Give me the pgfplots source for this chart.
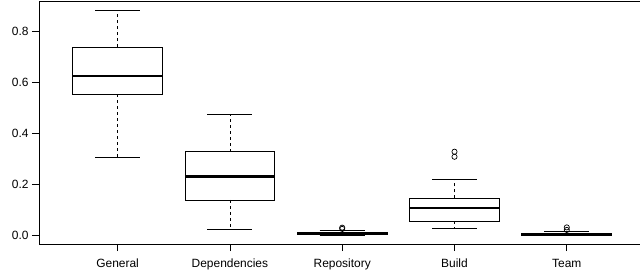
\documentclass[border=0pt]{standalone}
\usepackage{pgfplots}
\pgfplotsset{compat=1.18}
\usepgfplotslibrary{statistics}
\usepackage{fontspec}
\setmainfont{Liberation Sans}
\begin{document}
\begin{tikzpicture}
\begin{axis}[
  scale only axis, width=606.4bp, height=242.5bp,
  xmin=0.3, xmax=5.7, ymin=-0.0354, ymax=0.9193,
  xtick={1,2,3,4,5},
  xticklabels={General,Dependencies,Repository,Build,Team},
  ytick={0,0.2,0.4,0.6,0.8},
  xtick pos=bottom, ytick pos=left,
  tick align=outside, major tick length=7bp,
  tick style={black, line width=0.8bp},
  axis line style={line width=0.8bp},
  /pgf/number format/assume math mode=true,
  yticklabel style={/pgf/number format/fixed,/pgf/number format/fixed zerofill,/pgf/number format/precision=1},
  xticklabel style={yshift=-4.5bp},
  tick label style={font=\fontsize{12}{14}\selectfont},
  boxplot/draw direction=y,
  boxplot/box extend=0.8,
  boxplot/whisker extend=0.4,
  boxplot/draw/lower whisker/.code={
    \draw[black, line width=0.8bp, dash pattern=on 3bp off 3bp]
      (boxplot box cs:\pgfplotsboxplotvalue{lower quartile},0.5) --
      (boxplot box cs:\pgfplotsboxplotvalue{lower whisker},0.5);
    \draw[black, line width=0.8bp]
      (boxplot whisker cs:\pgfplotsboxplotvalue{lower whisker},0) --
      (boxplot whisker cs:\pgfplotsboxplotvalue{lower whisker},1);
  },
  boxplot/draw/upper whisker/.code={
    \draw[black, line width=0.8bp, dash pattern=on 3bp off 3bp]
      (boxplot box cs:\pgfplotsboxplotvalue{upper quartile},0.5) --
      (boxplot box cs:\pgfplotsboxplotvalue{upper whisker},0.5);
    \draw[black, line width=0.8bp]
      (boxplot whisker cs:\pgfplotsboxplotvalue{upper whisker},0) --
      (boxplot whisker cs:\pgfplotsboxplotvalue{upper whisker},1);
  },
  boxplot/draw/median/.code={
    \draw[black, line width=2.4bp]
      (boxplot box cs:\pgfplotsboxplotvalue{median},0) --
      (boxplot box cs:\pgfplotsboxplotvalue{median},1);
  },
  every axis plot/.append style={black, line width=0.8bp, solid, mark=o, mark size=2.6bp, mark options={solid, line width=0.7bp}},
]
% General
\addplot[boxplot prepared={draw position=1, lower whisker=0.306, lower quartile=0.554, median=0.625, upper quartile=0.740, upper whisker=0.885}] coordinates {};
% Dependencies
\addplot[boxplot prepared={draw position=2, lower whisker=0.024, lower quartile=0.138, median=0.230, upper quartile=0.328, upper whisker=0.475}] coordinates {};
% Repository
\addplot[boxplot prepared={draw position=3, lower whisker=0.0, lower quartile=0.002, median=0.006, upper quartile=0.009, upper whisker=0.017}] coordinates {(0,0.024) (0,0.029)};
% Build
\addplot[boxplot prepared={draw position=4, lower whisker=0.025, lower quartile=0.054, median=0.106, upper quartile=0.144, upper whisker=0.220}] coordinates {(0,0.308) (0,0.328)};
% Team
\addplot[boxplot prepared={draw position=5, lower whisker=0.0, lower quartile=0.0, median=0.004, upper quartile=0.006, upper whisker=0.013}] coordinates {(0,0.020) (0,0.030)};
\end{axis}
\pgfresetboundingbox
\path[use as bounding box] (-39bp,-34bp) rectangle (601bp,244bp);
\end{tikzpicture}
\end{document}
